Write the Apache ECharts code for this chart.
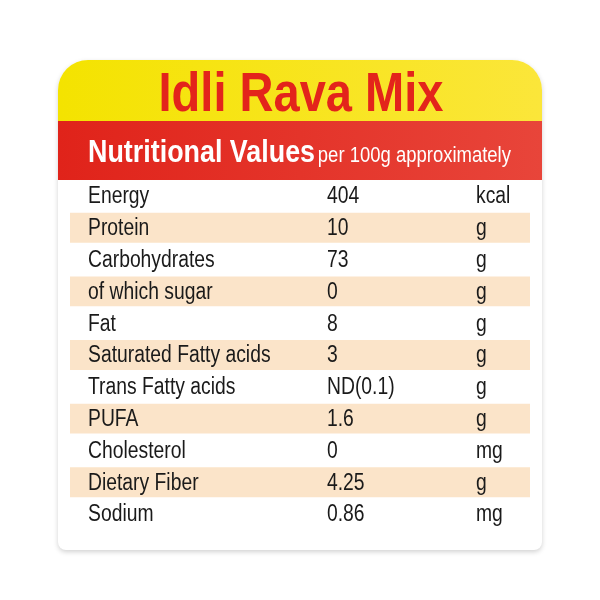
<!DOCTYPE html>
<html><head><meta charset="utf-8">
<script src="https://cdn.jsdelivr.net/npm/echarts@6/dist/echarts.min.js"></script>
<style>html,body{margin:0;padding:0;background:#fff}#c{width:600px;height:600px}</style>
</head><body><div id="c"></div>
<script>
const title = "Idli Rava Mix";
const header = "Nutritional Values";
const subHeader = "per 100g approximately";
const nutrients = ["Energy","Protein","Carbohydrates","of which sugar","Fat","Saturated Fatty acids","Trans Fatty acids","PUFA","Cholesterol","Dietary Fiber","Sodium"];
const amounts = ["404","10","73","0","8","3","ND(0.1)","1.6","0","4.25","0.86"];
const units = ["kcal","g","g","g","g","g","g","g","mg","g","mg"];

const font = '"Liberation Sans",Arial,sans-serif';
const SX = 0.84;
const chart = echarts.init(document.getElementById('c'));
chart.setOption({
  animation:false,
  graphic:[
    {type:'rect',shape:{x:58,y:60,width:484,height:490,r:[30,30,8,8]},style:{fill:'#fff',shadowBlur:5,shadowColor:'rgba(0,0,0,0.18)',shadowOffsetY:2},z:-10},
    {type:'rect',shape:{x:58,y:60,width:484,height:62,r:[30,30,0,0]},style:{fill:{type:'linear',x:0,y:0,x2:1,y2:0,colorStops:[{offset:0,color:'#f4e300'},{offset:1,color:'#fbe63a'}]}},z:-5},
    {type:'text',x:301,y:96,scaleX:SX,style:{text:title,fill:'#e3241b',font:'bold 56px '+font,align:'center',verticalAlign:'middle'}},
    {type:'rect',shape:{x:58,y:121,width:484,height:59},style:{fill:{type:'linear',x:0,y:0,x2:1,y2:0,colorStops:[{offset:0,color:'#e0231a'},{offset:1,color:'#e8453a'}]}},z:-5},
    {type:'text',x:88,y:153,scaleX:SX,style:{rich:{a:{fill:'#fff',font:'bold 32px '+font},b:{fill:'#fff',font:'22px '+font,padding:[6,0,0,0]}},text:'{a|'+header+'} {b|'+subHeader+'}',verticalAlign:'middle'}}
  ],
  grid:{left:70,right:70,top:180,bottom:70},
  xAxis:{type:'value',min:0,max:1,show:false},
  yAxis:{type:'category',data:nutrients,inverse:true,show:false},
  series:[{
    type:'custom',
    data:nutrients.map((n,i)=>[0,i]),
    encode:{x:0,y:1},
    renderItem:function(params,api){
      const i=api.value(1);
      const c=api.coord([0,i]);
      const h=api.size([0,1])[1];
      const w=api.size([1,0])[0];
      const f='23px '+font;
      const t=(x,s)=>({type:'text',x:x,y:c[1]+1,scaleX:SX,style:{x:0,y:0,text:s,font:f,fill:'#1a1a1a',verticalAlign:'middle'}});
      return {type:'group',children:[
        {type:'rect',shape:{x:c[0],y:c[1]-h/2+1,width:w,height:h-2},style:{fill:i%2?'#fbe4c9':'#fff'}},
        t(88,nutrients[i]),t(327,amounts[i]),t(476,units[i])
      ]};
    }
  }]
});
</script></body></html>
